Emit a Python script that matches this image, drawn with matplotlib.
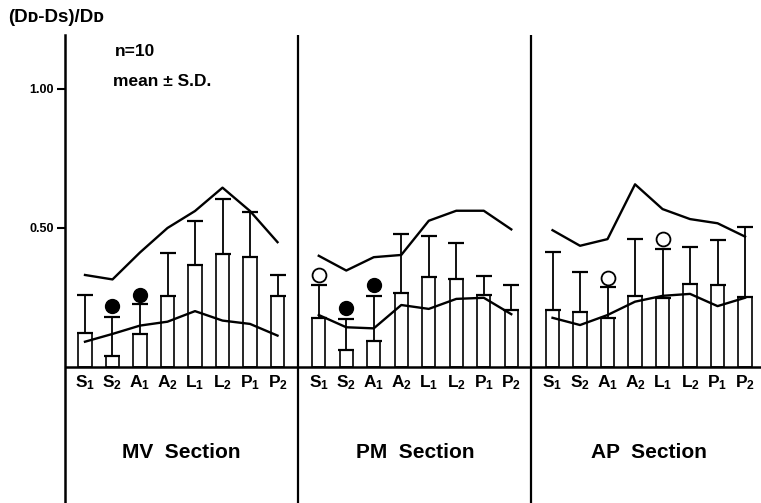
import matplotlib
matplotlib.use("Agg")
import matplotlib.pyplot as plt
import numpy as np

plt.rcParams['font.family'] = ['Liberation Sans', 'DejaVu Sans']
plt.rcParams['font.weight'] = 'bold'
plt.rcParams['mathtext.fontset'] = 'custom'
plt.rcParams['mathtext.rm'] = 'Liberation Sans:bold'
plt.rcParams['mathtext.bf'] = 'Liberation Sans:bold'
plt.rcParams['mathtext.it'] = 'Liberation Sans:bold'

categories = [r'$\mathrm{S}_{1}$', r'$\mathrm{S}_{2}$', r'$\mathrm{A}_{1}$', r'$\mathrm{A}_{2}$',
              r'$\mathrm{L}_{1}$', r'$\mathrm{L}_{2}$', r'$\mathrm{P}_{1}$', r'$\mathrm{P}_{2}$']
sections = ['MV  Section', 'PM  Section', 'AP  Section']

# MV section
mv_mean = [0.123, 0.040, 0.117, 0.255, 0.366, 0.406, 0.396, 0.255]
mv_sd = [0.137, 0.140, 0.108, 0.155, 0.159, 0.198, 0.162, 0.075]
mv_upper = [0.331, 0.315, 0.412, 0.500, 0.561, 0.645, 0.561, 0.449]
mv_lower = [0.091, 0.119, 0.149, 0.163, 0.201, 0.167, 0.155, 0.113]
mv_filled = {1: 0.220, 2: 0.260}
mv_open = {}

# PM section
pm_mean = [0.177, 0.061, 0.095, 0.265, 0.325, 0.318, 0.259, 0.205]
pm_sd = [0.118, 0.110, 0.160, 0.212, 0.146, 0.127, 0.070, 0.090]
pm_upper = [0.400, 0.347, 0.395, 0.403, 0.526, 0.562, 0.562, 0.495]
pm_lower = [0.187, 0.143, 0.139, 0.223, 0.209, 0.245, 0.249, 0.190]
pm_filled = {1: 0.211, 2: 0.294}
pm_open = {0: 0.330}

# AP section
ap_mean = [0.205, 0.197, 0.177, 0.257, 0.248, 0.299, 0.296, 0.251]
ap_sd = [0.210, 0.145, 0.110, 0.203, 0.178, 0.134, 0.160, 0.251]
ap_upper = [0.492, 0.436, 0.460, 0.657, 0.568, 0.532, 0.517, 0.469]
ap_lower = [0.177, 0.151, 0.187, 0.235, 0.256, 0.263, 0.219, 0.249]
ap_filled = {}
ap_open = {2: 0.319, 4: 0.460}

groups = [
    (mv_mean, mv_sd, mv_upper, mv_lower, mv_filled, mv_open),
    (pm_mean, pm_sd, pm_upper, pm_lower, pm_filled, pm_open),
    (ap_mean, ap_sd, ap_upper, ap_lower, ap_filled, ap_open),
]

W, H = 761, 503
fig = plt.figure(figsize=(W / 100, H / 100), dpi=100)
ax = fig.add_axes([65 / W, 0, (W - 65) / W, (H - 35) / H])

group_step = 8.5
ymin, ymax = -0.489, 1.194
ax.set_xlim(-0.727, 24.58)
ax.set_ylim(ymin, ymax)

for g, (mean, sd, up, lo, filled, opn) in enumerate(groups):
    x = np.arange(len(categories)) + g * group_step
    ax.bar(x, mean, width=0.48, color='white', edgecolor='black', linewidth=1.2, zorder=2)
    ax.errorbar(x, mean, yerr=[np.zeros(len(sd)), sd], fmt='none', ecolor='black',
                elinewidth=1.3, capsize=5.5, capthick=1.6, zorder=3)
    ax.plot(x, up, color='black', lw=1.7, zorder=4)
    ax.plot(x, lo, color='black', lw=1.7, zorder=4)
    for i, v in filled.items():
        ax.plot(x[i], v, 'o', color='black', ms=10, zorder=5)
    for i, v in opn.items():
        ax.plot(x[i], v, 'o', mfc='white', mec='black', mew=1.3, ms=10, zorder=5)
    for i, c in enumerate(categories):
        ax.text(x[i], -0.058, c, ha='center', va='center', fontsize=12.5, fontweight='bold')
    ax.text(x[0] + 3.5, -0.308, sections[g], ha='center', va='center', fontsize=15,
            fontweight='bold')

# separators and baseline
for xd in [7.75, 16.2]:
    ax.axvline(xd, color='black', lw=1.6, zorder=1)
ax.axhline(0, color='black', lw=1.8, zorder=6)

for s in ['top', 'right', 'bottom']:
    ax.spines[s].set_visible(False)
ax.spines['left'].set_linewidth(1.8)
ax.set_xticks([])
ax.set_yticks([0.5, 1.0])
ax.set_yticklabels(['0.50', '1.00'], fontsize=9, fontweight='bold')
ax.tick_params(axis='y', length=6, width=1.5, pad=2)

ax.text(1.09, 1.133, 'n=10', ha='left', va='center', fontsize=12.5, fontweight='bold')
ax.text(1.03, 1.025, 'mean ± S.D.', ha='left', va='center', fontsize=12.5, fontweight='bold')

fig.text(8 / W, 1 - 18 / H, '(Dᴅ-Ds)/Dᴅ', ha='left', va='center', fontsize=13.5,
         fontweight='bold', family=['Liberation Sans', 'DejaVu Sans'])

fig.savefig('out.png', dpi=100)
